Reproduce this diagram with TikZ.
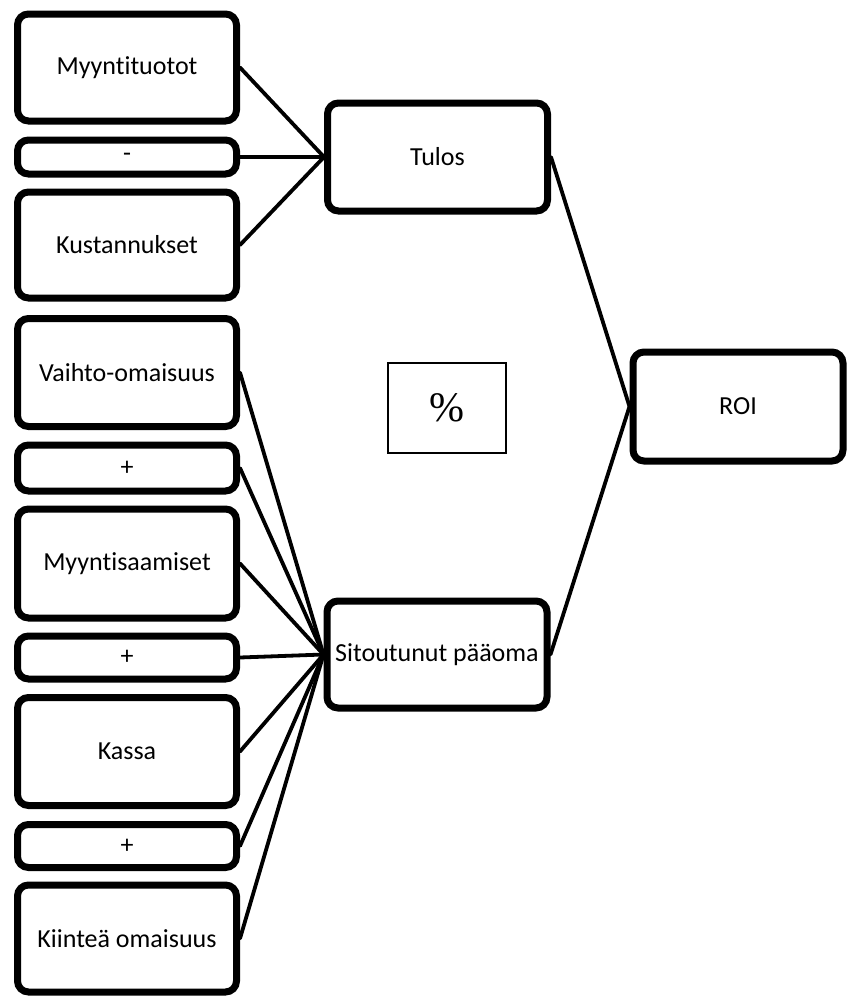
\documentclass[tikz,border=0pt]{standalone}
\usepackage{fontspec}
\setmainfont{Carlito}[Ligatures=NoCommon]
\newfontfamily\pctfont{Liberation Serif}
\usetikzlibrary{positioning}
\tikzset{
  itm/.style  = {draw=black, line width=7pt, rectangle, rounded corners=11pt,
                 fill=white, align=center, inner sep=0pt,
                 minimum width=219pt, minimum height=107pt,
                 font=\fontsize{26}{30}\selectfont},
  opr/.style  = {itm, minimum height=43pt},
  res/.style  = {itm, minimum width=220pt, minimum height=108pt},
  pct/.style  = {draw=black, line width=2pt, rectangle, fill=white,
                 minimum width=118pt, minimum height=90pt, inner sep=0pt,
                 font=\pctfont\fontsize{42}{44}\selectfont},
  ln/.style   = {line width=3.8pt, line cap=round},
}
\begin{document}
\begin{tikzpicture}[x=1pt, y=-1pt]
\useasboundingbox (0,0) rectangle (849,996);

%% ---- tulos branch ----------------------------------------------------
\node[itm] (myy) at (127,67.5) {Myyntituotot};
\node[opr, minimum height=34pt] (minus) at (127,157) {-};
\node[itm, minimum height=106pt] (kus) at (127,245) {Kustannukset};

%% ---- capital branch --------------------------------------------------
\node[itm, minimum height=108pt] (vai) at (127,372.5) {Vaihto-omaisuus};
\node[opr, minimum height=46pt] (plusa) at (127,468) {+};
\node[itm, minimum height=109pt] (saa) at (127,563.5) {Myyntisaamiset};
\node[opr] (plusb) at (127,657.5) {+};
\node[itm, minimum height=108pt] (kas) at (127,751.5) {Kassa};
\node[opr] (plusc) at (127,846) {+};
\node[itm] (kii) at (127,938.5) {Kiinteä omaisuus};

%% ---- results ---------------------------------------------------------
\node[res] (tulos) at (437.5,157) {Tulos};
\node[res, minimum height=107pt] (sit) at (437,654.5) {Sitoutunut pääoma};
\node[res, minimum width=210pt, minimum height=109pt] (roi) at (738,406.5) {ROI};
\node[pct] (pros) at (447,408) {\%};

%% ---- connectors ------------------------------------------------------
\draw[ln] (myy.east) -- (tulos.west);
\draw[ln] (minus.east) -- (tulos.west);
\draw[ln] (kus.east) -- (tulos.west);

\draw[ln] (vai.east) -- (sit.west);
\draw[ln] (plusa.east) -- (sit.west);
\draw[ln] (saa.east) -- (sit.west);
\draw[ln] (plusb.east) -- (sit.west);
\draw[ln] (kas.east) -- (sit.west);
\draw[ln] (plusc.east) -- (sit.west);
\draw[ln] (kii.east) -- (sit.west);

\draw[ln] (tulos.east) -- (roi.west);
\draw[ln] (sit.east) -- (roi.west);
\end{tikzpicture}
\end{document}
